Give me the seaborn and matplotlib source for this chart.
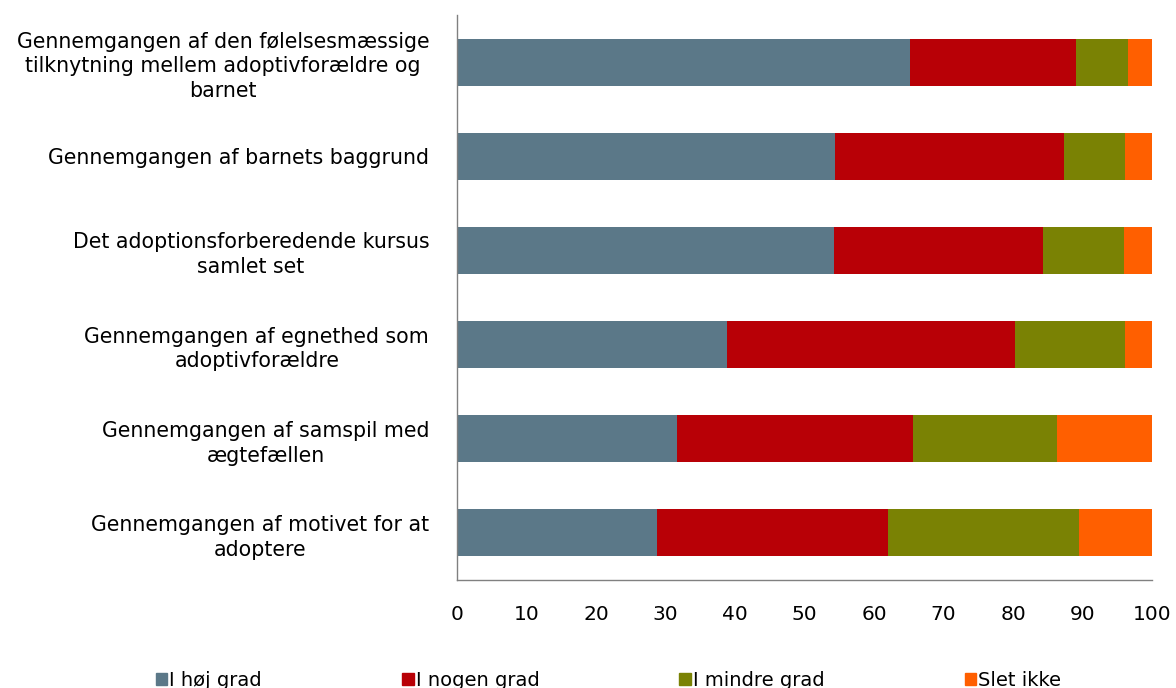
import numpy as np
import pandas as pd
import matplotlib.pyplot as plt
import seaborn as sns
from matplotlib.patches import Patch

categories = [
    "Gennemgangen af den følelsesmæssige\ntilknytning mellem adoptivforældre og\nbarnet",
    "Gennemgangen af barnets baggrund",
    "Det adoptionsforberedende kursus\nsamlet set",
    "Gennemgangen af egnethed som\nadoptivforældre",
    "Gennemgangen af samspil med\nægtefællen",
    "Gennemgangen af motivet for at\nadoptere",
]
series = ["I høj grad", "I nogen grad", "I mindre grad", "Slet ikke"]
hoej = [65.2, 54.4, 54.2, 38.8, 31.7, 28.8]
nogen = [23.9, 32.9, 30.1, 41.5, 33.9, 33.2]
mindre = [7.4, 8.8, 11.7, 15.8, 20.7, 27.5]
slet = [3.5, 3.9, 4.0, 3.9, 13.7, 10.5]
colors = ["#5B7888", "#B80006", "#7A8204", "#FF5F00"]

sns.set_theme(style="white")
plt.rcParams['font.family'] = ['DejaVu Sans']
plt.rcParams['text.color'] = 'black'
plt.rcParams['xtick.color'] = 'black'
plt.rcParams['ytick.color'] = 'black'

df = pd.DataFrame({"kategori": categories, "I høj grad": hoej, "I nogen grad": nogen,
                   "I mindre grad": mindre, "Slet ikke": slet})
cum = df[series].cumsum(axis=1)

fig = plt.figure(figsize=(11.76, 6.88), dpi=100)
ax = fig.add_axes([457 / 1176, 1 - 580 / 688, 695 / 1176, 565 / 688])

# draw cumulative totals from the back to the front
for s, c in reversed(list(zip(series, colors))):
    sns.barplot(x=cum[s], y=df["kategori"], color=c, width=0.5, saturation=1,
                orient="h", ax=ax, edgecolor="none")

ax.set_xlim(0, 100)
ax.set_ylim(5.5, -0.5)
ax.set_xticks(range(0, 101, 10))
ax.set_xlabel("")
ax.set_ylabel("")
ax.tick_params(axis="x", length=0, pad=18, labelsize=14.5)
ax.tick_params(axis="y", length=0, pad=20, labelsize=14.8)
for lbl in ax.get_yticklabels():
    lbl.set_multialignment("center")
    lbl.set_linespacing(1.3)
for sp in ["top", "right"]:
    ax.spines[sp].set_visible(False)
for sp in ["left", "bottom"]:
    ax.spines[sp].set_color("#808080")
    ax.spines[sp].set_linewidth(1)

handles = [Patch(color=c, label=s) for s, c in zip(series, colors)]
fig.legend(handles=handles, loc="lower left", bbox_to_anchor=(148 / 1176, -0.014),
           ncol=4, frameon=False, fontsize=14, handlelength=0.6, handleheight=0.6,
           handletextpad=0.1, columnspacing=7.2, borderaxespad=0)

fig.savefig("out.png", dpi=100)
